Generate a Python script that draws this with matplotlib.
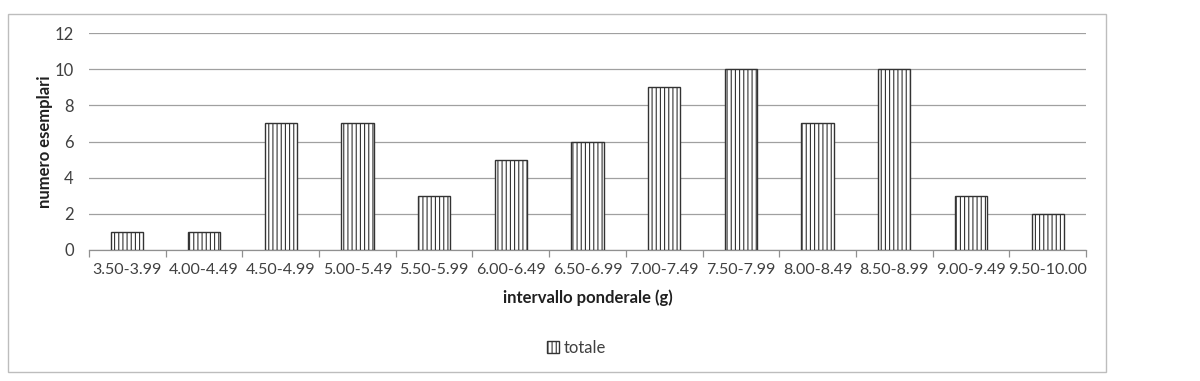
import matplotlib
matplotlib.use("Agg")
import matplotlib.pyplot as plt
from matplotlib.patches import Rectangle

categories = ["3.50-3.99", "4.00-4.49", "4.50-4.99", "5.00-5.49", "5.50-5.99",
              "6.00-6.49", "6.50-6.99", "7.00-7.49", "7.50-7.99", "8.00-8.49",
              "8.50-8.99", "9.00-9.49", "9.50-10.00"]
totale = [1, 1, 7, 7, 3, 5, 6, 9, 10, 7, 10, 3, 2]
yticks = [0, 2, 4, 6, 8, 10, 12]

plt.rcParams['font.family'] = ['Lato', 'DejaVu Sans']
plt.rcParams['hatch.color'] = '#444444'
plt.rcParams['hatch.linewidth'] = 0.8

fig = plt.figure(figsize=(12, 3.81), dpi=100)
fig.patch.set_facecolor('white')
fig.add_artist(Rectangle((8/1200, 1-372/381), (1106-8)/1200, (372-14)/381,
                         transform=fig.transFigure, fill=False,
                         edgecolor='#bdbdbd', linewidth=1.0))

ax = fig.add_axes([89/1200, 1-250/381, (1086-89)/1200, (250-33)/381])
x = list(range(len(categories)))
ax.bar(x, totale, width=0.42, color='white', edgecolor='#333333',
       linewidth=1.0, hatch='||||', label='totale', zorder=3)

ax.set_xlim(-0.5, len(categories)-0.5)
ax.set_ylim(0, 12)
ax.set_yticks(yticks)
ax.set_yticklabels([str(v) for v in yticks], fontsize=12, color='#404040')
ax.yaxis.grid(True, color='#a0a0a0', linewidth=0.9, zorder=0)
ax.set_axisbelow(True)
ax.tick_params(axis='y', length=0, pad=11)

ax.set_xticks(x)
ax.set_xticklabels(categories, fontsize=11.5, color='#404040')
ax.tick_params(axis='x', length=0, pad=9)
ax.set_xticks([i-0.5 for i in range(len(categories)+1)], minor=True)
ax.tick_params(axis='x', which='minor', length=5, color='#909090', width=0.9)

for s in ['top', 'right', 'left']:
    ax.spines[s].set_visible(False)
ax.spines['bottom'].set_color('#909090')
ax.spines['bottom'].set_linewidth(0.9)

ax.set_ylabel('numero esemplari', fontsize=12, fontweight='bold', color='#202020', labelpad=1)
ax.set_xlabel('intervallo ponderale (g)', fontsize=12, fontweight='bold', color='#202020', labelpad=9)

leg = fig.legend(loc='center', bbox_to_anchor=(577/1200, 1-348/381), frameon=False,
                 fontsize=12, handlelength=0.7, handleheight=0.7, handletextpad=0.3)
for t in leg.get_texts():
    t.set_color('#404040')

fig.savefig('out.png', dpi=100, facecolor='white')
